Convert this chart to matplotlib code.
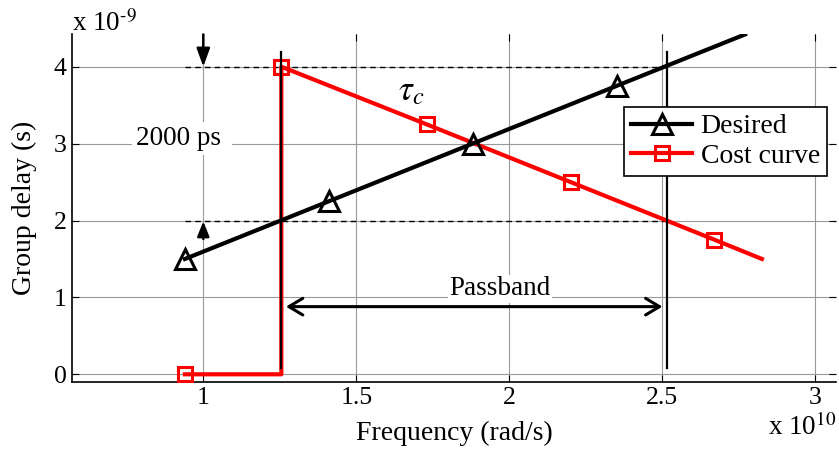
import matplotlib
matplotlib.use("Agg")
import matplotlib.pyplot as plt

plt.rcParams['font.family'] = ['Liberation Serif', 'DejaVu Serif']
plt.rcParams['mathtext.fontset'] = 'stix'

# frequency in units of 1e10 rad/s, delay in units of 1e-9 s
freq_desired = [0.94, 1.41, 1.88, 2.35, 2.77]
delay_desired = [1.5, 2.25, 3.0, 3.75, 4.42]

freq_cost = [0.94, 1.255, 1.255, 1.73, 2.20, 2.67, 2.825]
delay_cost = [0.0, 0.0, 4.0, 3.25, 2.5, 1.75, 1.5]

band_edges = [1.255, 2.515]
delay_limits = [2.0, 4.0]

x_ticks = [1, 1.5, 2, 2.5, 3]
x_ticklabels = ['1', '1.5', '2', '2.5', '3']
y_ticks = [0, 1, 2, 3, 4]

fig = plt.figure(figsize=(8.39, 4.5), dpi=100)
ax = fig.add_axes([0.0858, 0.1518, 0.9106, 0.7726])

ax.plot(freq_desired, delay_desired, color='black', lw=3, marker='^',
        markersize=14, markerfacecolor='none', markeredgewidth=2.2,
        markevery=[0, 1, 2, 3], label='Desired', zorder=4)
ax.plot(freq_cost, delay_cost, color='red', lw=3, marker='s',
        markersize=10, markerfacecolor='none', markeredgewidth=2.2,
        markevery=[0, 2, 3, 4, 5], label='Cost curve', zorder=3)

# passband edges and delay limits
for xe in band_edges:
    ax.plot([xe, xe], [0.08, 4.19], color='black', lw=1.6, zorder=5)
for yl in delay_limits:
    ax.plot([0.94, band_edges[1]], [yl, yl], color='black', lw=1,
            ls=(0, (4, 3)), zorder=2)

# 2000 ps markers
ax.annotate('', xy=(1.0, 4.0), xytext=(1.0, 4.42),
            arrowprops=dict(arrowstyle='-|>,head_length=0.55,head_width=0.2',
                            lw=1.8, color='black',
                            mutation_scale=20, shrinkA=0, shrinkB=0))
ax.annotate('', xy=(1.0, 1.99), xytext=(1.0, 1.76),
            arrowprops=dict(arrowstyle='-|>,head_length=0.5,head_width=0.2',
                            lw=1.8, color='black',
                            mutation_scale=18, shrinkA=0, shrinkB=0))
ax.text(0.93, 3.07, '2000 ps ', fontsize=19.5, ha='center', va='center',
        bbox=dict(boxstyle='square,pad=0.15', fc='white', ec='none'), zorder=6)

# passband arrow
ax.annotate('', xy=(1.27, 0.88), xytext=(2.50, 0.88),
            arrowprops=dict(arrowstyle='<->,head_length=0.5,head_width=0.3',
                            lw=2.2, color='black', mutation_scale=20,
                            shrinkA=0, shrinkB=0), zorder=6)
ax.text(1.97, 1.11, 'Passband', fontsize=19.5, ha='center', va='center',
        bbox=dict(boxstyle='square,pad=0.05', fc='white', ec='none'), zorder=6)

ax.text(1.68, 3.68, r'$\tau_c$', fontsize=25, ha='center', va='center')

ax.set_xlim(0.571, 3.067)
ax.set_ylim(-0.096, 4.425)
ax.set_xticks(x_ticks)
ax.set_xticklabels(x_ticklabels)
ax.set_yticks(y_ticks)
ax.tick_params(direction='in', length=5, labelsize=18.5, top=True, right=True,
               width=0.8, pad=4)
ax.grid(True, color='#999999', lw=0.8)
ax.set_axisbelow(True)
for side in ['top', 'right']:
    ax.spines[side].set_visible(False)
for side in ['left', 'bottom']:
    ax.spines[side].set_linewidth(1.2)

ax.set_xlabel('Frequency (rad/s)', fontsize=20, labelpad=8)
ax.set_ylabel('Group delay (s)', fontsize=20, labelpad=12)

fig.text(72 / 839, 1 - 31 / 450, r'x 10$^{\text{-}9}$', fontsize=19.5,
         ha='left', va='baseline')
fig.text(837 / 839, 1 - 435 / 450, r'x 10$^{10}$', fontsize=19.5, ha='right',
         va='baseline')

leg = ax.legend(loc='upper right', bbox_to_anchor=(0.988, 0.79), fontsize=20,
                frameon=True, fancybox=False, framealpha=1, edgecolor='black',
                handlelength=2.2, borderpad=0.25, labelspacing=0.15,
                handletextpad=0.3, borderaxespad=0)
leg.get_frame().set_linewidth(1.2)

fig.savefig('out.png', dpi=100)
